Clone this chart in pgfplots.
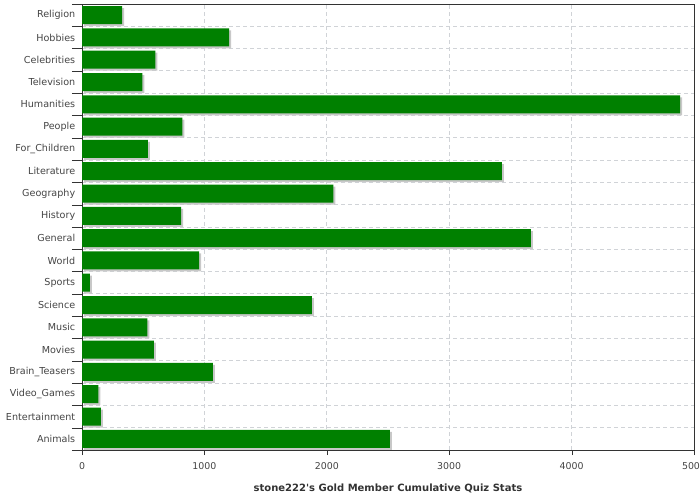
\documentclass[border=0pt]{standalone}
\usepackage{fontspec}
\setmainfont{DejaVu Sans}
\usepackage{pgfplots}
\pgfplotsset{compat=1.18}
\definecolor{bargreen}{RGB}{0,128,0}
\definecolor{shadowc}{RGB}{200,200,200}
\definecolor{gridc}{RGB}{208,211,215}
\definecolor{axisc}{RGB}{51,51,51}
\definecolor{labc}{RGB}{68,68,68}
\begin{document}
\begin{tikzpicture}
\path[use as bounding box] (0,0) rectangle (700bp,500bp);
\begin{axis}[
  at={(82bp,50bp)}, anchor=south west,
  scale only axis, width=612bp, height=446bp,
  xmin=0, xmax=5000, ymin=-0.5, ymax=19.5,
  xtick={0,1000,...,5000},
  ytick={-0.5,0.5,...,19.5},
  yticklabels={Animals,Entertainment,Video\_Games,Brain\_Teasers,Movies,Music,Science,Sports,World,General,History,Geography,Literature,For\_Children,People,Humanities,Television,Celebrities,Hobbies,Religion,{}},
  yticklabel style={yshift=11.15bp, xshift=1bp, font=\fontsize{9.6bp}{11bp}\selectfont, text=labc},
  xticklabel style={yshift=-5bp, font=\fontsize{9.4bp}{11bp}\selectfont, text=labc},
  /pgf/number format/assume math mode=true,
  /pgf/number format/1000 sep={},
  tick align=outside,
  xtick pos=bottom, ytick pos=left,
  xtick style={axisc, /pgfplots/major tick length=5bp},
  ytick style={axisc, /pgfplots/major tick length=10bp},
  xmajorgrids, ymajorgrids,
  grid style={dash pattern=on 4bp off 3bp, gridc, line width=0.8bp},
  axis line style={axisc, line width=0.9bp},
  xlabel={\textbf{stone222\textquotesingle s Gold Member Cumulative Quiz Stats}},
  xlabel style={yshift=-7bp, font=\fontsize{10bp}{12bp}\selectfont, text=axisc},
  xbar, bar width=18bp,
  clip=false,
]
\addplot[fill=bargreen, draw=none,
  preaction={fill=shadowc, transform canvas={xshift=2bp,yshift=-2bp}}]
coordinates {
(2516,0) (155,1) (133,2) (1070,3) (588,4) (534,5) (1879,6) (65,7) (956,8) (3668,9)
(809,10) (2053,11) (3431,12) (539,13) (820,14) (4886,15) (493,16) (599,17) (1201,18) (327,19)
};
\end{axis}
\end{tikzpicture}
\end{document}
